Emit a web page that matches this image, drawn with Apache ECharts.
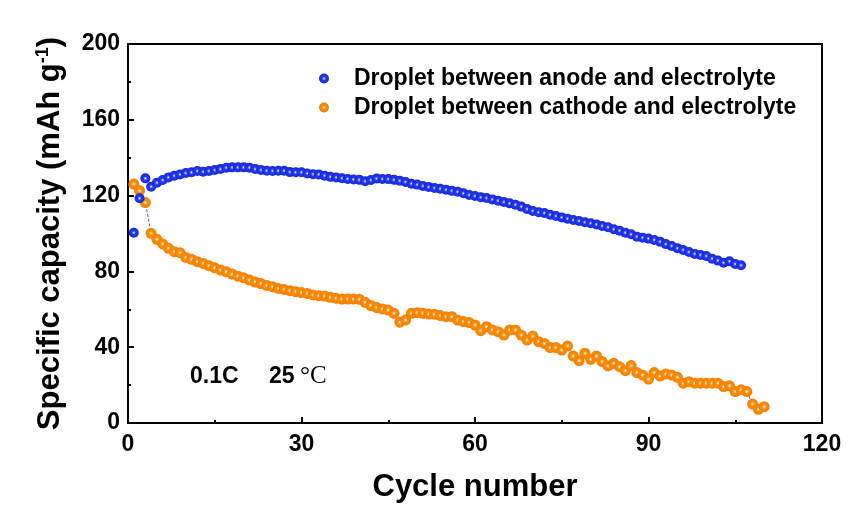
<!DOCTYPE html>
<html>
<head>
<meta charset="utf-8">
<script src="https://cdn.jsdelivr.net/npm/echarts@6/dist/echarts.min.js"></script>
<style>
  html, body { margin: 0; padding: 0; background: #fff; }
  #main { width: 849px; height: 509px; }
</style>
</head>
<body>
<div id="main"></div>
<script>
// capacity values, one per cycle starting at cycle 1
var anodeCap = [
  100.4, 118.6, 129.1, 124.7, 126.8, 128.2, 129.6, 130.5, 131.2, 131.9,
  132.3, 133.0, 132.6, 133.0, 133.5, 134.0, 134.7, 134.9, 134.9, 134.9,
  134.7, 134.0, 133.5, 133.1, 133.0, 133.1, 133.1, 132.4, 132.3, 132.3,
  131.7, 131.3, 131.2, 130.5, 129.9, 129.6, 129.2, 128.8, 128.5, 128.3,
  127.6, 128.2, 129.0, 128.8, 128.7, 128.3, 127.8, 127.2, 126.3, 125.8,
  125.1, 124.5, 124.0, 123.6, 123.1, 122.5, 122.0, 121.2, 120.3, 119.8,
  119.1, 118.7, 118.0, 117.3, 116.6, 115.9, 115.2, 114.2, 112.9, 111.9,
  111.2, 110.8, 109.9, 109.2, 108.5, 107.8, 107.1, 106.6, 105.9, 105.4,
  104.8, 104.0, 103.3, 102.2, 101.5, 100.4, 99.6, 98.3, 97.8, 97.3,
  96.6, 95.7, 94.4, 93.4, 92.2, 91.3, 90.2, 89.2, 88.7, 88.1,
  86.7, 85.7, 84.6, 85.3, 83.9, 83.2
];
var cathodeCap = [
  126.1, 122.6, 116.3, 100.1, 96.9, 94.5, 92.2, 90.4, 89.9, 87.4,
  86.4, 85.1, 84.2, 83.0, 81.9, 80.7, 79.8, 78.6, 77.5, 76.6,
  75.4, 74.4, 73.6, 72.6, 71.9, 71.0, 70.5, 69.8, 69.3, 68.8,
  68.4, 67.6, 67.2, 67.0, 66.3, 65.8, 65.4, 65.4, 65.4, 65.3,
  63.7, 62.0, 60.9, 60.2, 59.6, 57.9, 53.2, 54.3, 57.9, 58.2,
  57.9, 57.5, 57.4, 56.7, 56.1, 56.1, 54.3, 53.5, 53.0, 51.7,
  48.7, 50.8, 49.1, 48.2, 46.4, 49.1, 49.1, 46.4, 43.8, 45.9,
  42.9, 42.0, 39.8, 39.8, 38.5, 40.6, 35.3, 32.9, 36.8, 33.6,
  35.3, 32.4, 30.1, 31.5, 29.7, 27.6, 30.3, 26.6, 25.3, 23.2,
  26.6, 24.8, 25.9, 25.3, 24.1, 21.0, 21.8, 21.0, 21.0, 21.0,
  21.0, 21.0, 19.2, 19.6, 16.6, 17.5, 16.6, 10.0, 7.2, 8.6
];
var seriesNames = ['Droplet between anode and electrolyte', 'Droplet between cathode and electrolyte'];
var xTicks = [0, 30, 60, 90, 120];
var yTicks = [0, 40, 80, 120, 160, 200];

function byCycle(arr) {
  var out = [];
  for (var i = 0; i < arr.length; i++) out.push([i + 1, arr[i]]);
  return out;
}
// sphere-like marker: small pale highlight, saturated body
function ball(hi, body, edge) {
  return {
    type: 'radial', x: 0.5, y: 0.5, r: 0.5,
    colorStops: [
      { offset: 0, color: '#ffffff' },
      { offset: 0.12, color: hi },
      { offset: 0.4, color: body },
      { offset: 1, color: edge }
    ]
  };
}

var myChart = echarts.init(document.getElementById('main'));
var font = 'Liberation Sans, Arial, sans-serif';

var option = {
  backgroundColor: '#ffffff',
  animation: false,
  grid: {
    left: 128, right: 27, top: 44, bottom: 86,
    show: true, borderColor: '#000', borderWidth: 2, backgroundColor: 'transparent'
  },
  legend: {
    orient: 'vertical',
    left: 314, top: 60,
    itemWidth: 10, itemHeight: 10, itemGap: 2,
    data: [
      { name: seriesNames[0], icon: 'circle' },
      { name: seriesNames[1], icon: 'circle' }
    ],
    textStyle: {
      fontFamily: font, fontWeight: 'bold', fontSize: 23, color: '#000',
      lineHeight: 27, padding: [0, 0, 0, 20]
    }
  },
  xAxis: {
    type: 'value', min: xTicks[0], max: xTicks[xTicks.length - 1], interval: 30,
    name: 'Cycle number', nameLocation: 'middle', nameGap: 49,
    nameTextStyle: { fontFamily: font, fontWeight: 'bold', fontSize: 31, color: '#000' },
    axisLine: { show: true, lineStyle: { color: '#000', width: 2 } },
    axisTick: { show: true, inside: true, length: 6, lineStyle: { color: '#000', width: 2 } },
    minorTick: { show: true, splitNumber: 2, length: 3, lineStyle: { color: '#000', width: 2 } },
    axisLabel: { fontFamily: font, fontWeight: 'bold', fontSize: 23, color: '#000', margin: 10 },
    splitLine: { show: false }
  },
  yAxis: {
    type: 'value', min: yTicks[0], max: yTicks[yTicks.length - 1], interval: 40,
    name: 'Specific capacity (mAh g{sup|-1})', nameLocation: 'middle', nameGap: 62,
    nameTextStyle: {
      fontFamily: font, fontWeight: 'bold', fontSize: 31, color: '#000',
      rich: {
        sup: { fontFamily: font, fontWeight: 'bold', fontSize: 18, color: '#000', verticalAlign: 'top', padding: [0, 0, 14, 0] }
      }
    },
    axisLine: { show: true, lineStyle: { color: '#000', width: 2 } },
    axisTick: { show: true, inside: true, length: 6, lineStyle: { color: '#000', width: 2 } },
    minorTick: { show: true, splitNumber: 2, length: 3, lineStyle: { color: '#000', width: 2 } },
    axisLabel: { fontFamily: font, fontWeight: 'bold', fontSize: 23, color: '#000', margin: 8 },
    splitLine: { show: false }
  },
  graphic: [
    {
      type: 'text', left: 190, top: 365,
      style: { text: '0.1C', font: 'bold 23px ' + font, fill: '#000' }
    },
    {
      type: 'text', left: 269, top: 365,
      style: { text: '25', font: 'bold 23px ' + font, fill: '#000' }
    },
    {
      type: 'text', left: 300, top: 364,
      style: { text: '°C', font: '25px "Liberation Serif", serif', fill: '#000' }
    }
  ],
  series: [
    {
      name: seriesNames[0],
      type: 'scatter',
      symbol: 'circle', symbolSize: 10,
      itemStyle: { color: ball('#aab4ff', '#2238f4', '#1628d8'), opacity: 1 },
      data: byCycle(anodeCap),
      z: 3
    },
    {
      name: seriesNames[1],
      type: 'line',
      symbol: 'circle', symbolSize: 11, showSymbol: true, showAllSymbol: true,
      lineStyle: { color: '#444', width: 0.8, type: 'dashed' },
      itemStyle: { color: ball('#ffd9a8', '#ff8d08', '#f27f00'), opacity: 1 },
      data: byCycle(cathodeCap),
      z: 2
    }
  ]
};
myChart.setOption(option);
</script>
</body>
</html>
